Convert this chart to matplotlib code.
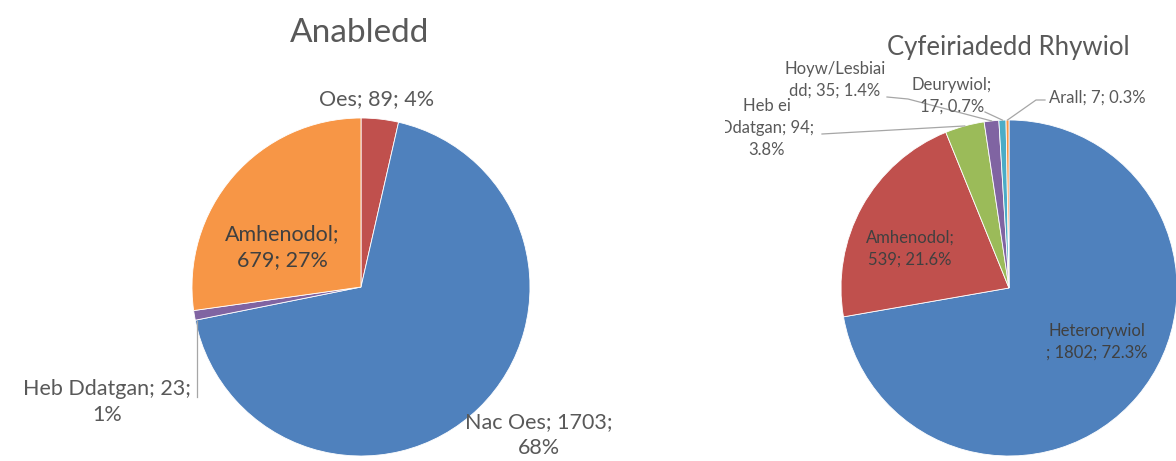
import numpy as np
import matplotlib
matplotlib.use("Agg")
from matplotlib import pyplot as plt
from matplotlib.transforms import Bbox, TransformedBbox

# chart data
left_title = "Anabledd"
left_names = ["Oes", "Nac Oes", "Heb Ddatgan", "Amhenodol"]
left_values = [89, 1703, 23, 679]
left_pcts = ["4%", "68%", "1%", "27%"]

right_title = "Cyfeiriadedd Rhywiol"
right_names = ["Heterorywiol", "Amhenodol", "Heb ei Ddatgan", "Hoyw/Lesbiaidd", "Deurywiol", "Arall"]
right_values = [1802, 539, 94, 35, 17, 7]
right_pcts = ["72.3%", "21.6%", "3.8%", "1.4%", "0.7%", "0.3%"]

BLUE, RED, GREEN, PURPLE, CYAN, ORANGE = "#4F81BD", "#C0504D", "#9BBB59", "#8064A2", "#4BACC6", "#F79646"
left_colors = [RED, BLUE, PURPLE, ORANGE]
right_colors = [BLUE, RED, GREEN, PURPLE, CYAN, ORANGE]

FONT = ["Lato", "DejaVu Sans"]
GREY = "#595959"
DARK = "#404040"

W, H = 1176, 461


def Y(y):
    # picture rows run downwards
    return H - y


def edge_point(wedge, center, r):
    a = np.deg2rad((wedge.theta1 + wedge.theta2) / 2)
    return center[0] + r * np.cos(a), center[1] + r * np.sin(a)


fig = plt.figure(figsize=(W / 100, H / 100), dpi=100)
ax = fig.add_axes([0, 0, 1, 1])

lc, lr = (361, Y(287)), 169
rc, rr = (1009, Y(288)), 168

lw, _ = ax.pie(left_values, colors=left_colors, startangle=90, counterclock=False,
               center=lc, radius=lr, wedgeprops=dict(edgecolor="white", linewidth=0.6))
rw, _ = ax.pie(right_values, colors=right_colors, startangle=90, counterclock=False,
               center=rc, radius=rr, wedgeprops=dict(edgecolor="white", linewidth=0.6))

ax.set_xlim(0, W)
ax.set_ylim(0, H)
ax.set_aspect("equal")
ax.axis("off")

# titles
ax.text(360, Y(33), left_title, ha="center", va="center", fontsize=24, color=GREY, family=FONT)
ax.text(1008, Y(48), right_title, ha="center", va="center", fontsize=18.5, color=GREY, family=FONT)

# left labels: template, centre, colour
left_fmt = ["{n}; {v}; {p}", "{n}; {v};\n{p}", "{n}; {v};\n{p}", "{n};\n{v}; {p}"]
left_pos = [(377, 99), (539, 435), (107, 402), (282, 247)]
left_tc = [GREY, GREY, GREY, DARK]
for i in range(len(left_names)):
    s = left_fmt[i].format(n=left_names[i], v=left_values[i], p=left_pcts[i])
    x, y = left_pos[i]
    ax.text(x, Y(y), s, ha="center", va="center", fontsize=15.5, color=left_tc[i],
            family=FONT, linespacing=1.4)

# leader for Heb Ddatgan, straight down from the slice
ex, ey = edge_point(lw[2], lc, lr)
ax.plot([ex + 2.5, ex + 2.5], [ey - 6, Y(397)], color="#a6a6a6", lw=0.9)

# right labels
right_fmt = ["{n}\n; {v}; {p}", "{n};\n{v}; {p}", "Heb ei\nDdatgan; {v};\n{p}",
             "Hoyw/Lesbiai\ndd; {v}; {p}", "{n};\n{v}; {p}", "{n}; {v}; {p}"]
right_pos = [(1097, 342), (910, 249), (767, 128), (835, 80), (952, 96), (1097, 98)]
right_tc = [DARK, DARK, GREY, GREY, GREY, GREY]
for i in range(len(right_names)):
    s = right_fmt[i].format(n=right_names[i], v=right_values[i], p=right_pcts[i])
    x, y = right_pos[i]
    t = ax.text(x, Y(y), s, ha="center", va="center", fontsize=12, color=right_tc[i],
                family=FONT, linespacing=1.45)
    if i == 2:
        # the chart area cuts off the start of this label
        t.set_clip_on(True)
        t.set_clip_box(TransformedBbox(Bbox([[725, 0], [W, H]]), ax.transData))

# right leader lines
starts = {2: [(822, 134)], 3: [(887, 97), (908, 99)], 4: [(985, 112)], 5: [(1045, 100), (1036, 100)]}
for i, pts in starts.items():
    ex, ey = edge_point(rw[i], rc, rr)
    xs = [p[0] for p in pts] + [ex]
    ys = [Y(p[1]) for p in pts] + [ey]
    ax.plot(xs, ys, color="#a6a6a6", lw=0.9)

fig.savefig("out.png", dpi=100, facecolor="white")
